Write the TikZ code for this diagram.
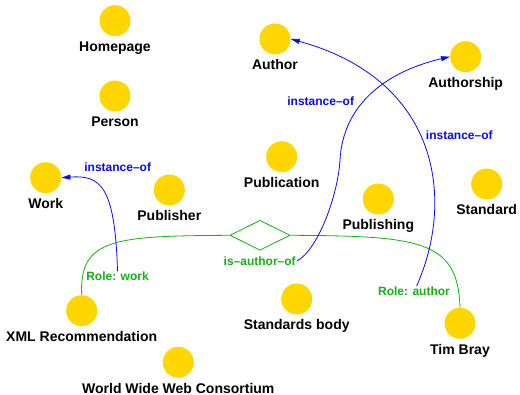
\documentclass[tikz,border=0pt]{standalone}
\usepackage{fontspec}
\setmainfont{Liberation Sans}
\usetikzlibrary{shapes.geometric,arrows.meta}
\definecolor{topicgold}{RGB}{255,214,0}
\definecolor{rolegreen}{RGB}{20,178,20}
\definecolor{typeblue}{RGB}{10,10,245}

\begin{document}
\begin{tikzpicture}[x=1pt, y=-1pt,
        topic/.style={circle, fill=topicgold, minimum size=31pt, inner sep=0pt,
          label={[font=\fontsize{14}{16}\selectfont\bfseries, text height=10pt, text depth=3pt,
          inner sep=0pt, label distance=5pt]below:#1}},
        assoc/.style={diamond, draw=rolegreen, line width=0.8pt, minimum width=60pt,
          minimum height=30pt, inner sep=0pt},
        rolelabel/.style={text=rolegreen, font=\fontsize{12}{14}\selectfont\bfseries, inner sep=1pt},
        typelabel/.style={text=typeblue, font=\fontsize{12}{14}\selectfont\bfseries, inner sep=1pt},
        roleline/.style={draw=rolegreen, line width=0.8pt},
        typeline/.style={draw=typeblue, line width=0.8pt, -{Triangle[length=9pt,width=5pt]}}]
        \useasboundingbox (0,0) rectangle (520,395);
        % topics
        \node[topic=Homepage] (homepage) at (115,20.7) {};
        \node[topic=Person] (person) at (115,96) {};
        \node[topic=Author] (author) at (275,39) {};
        \node[topic=Authorship] (authorship) at (465.7,56.7) {};
        \node[topic=Publication] (publication) at (281.7,156.7) {};
        \node[topic=Work] (work) at (45.7,177.7) {};
        \node[topic=Publisher] (publisher) at (169.3,190) {};
        \node[topic=Publishing] (publishing) at (378.3,199) {};
        \node[topic=Standard] (standard) at (486.7,184) {};
        \node[topic=Standards body] (standardsbody) at (296.7,299) {};
        \node[topic=XML Recommendation] (xmlrec) at (81.7,310.7) {};
        \node[topic=Tim Bray] (timbray) at (460,323.3) {};
        \node[topic=World Wide Web Consortium] (wwwc) at (178.3,362.3) {};
        % association and roles
        \node[assoc] (isauthorof) at (260,235.3) {};
        \node[rolelabel] (assoclabel) at (259.7,261) {is--author--of};
        \node[rolelabel] (rolework) at (117.5,276.7) {Role: work};
        \node[rolelabel] (roleauthor) at (414,291.7) {Role: author};
        \path[roleline] (isauthorof.west) .. controls (115,236) and (79,238) .. (xmlrec.north);
        \path[roleline] (isauthorof.east) .. controls (420,236) and (458,240) .. (timbray.north);
        % instance-of
        \node[typelabel] (instwork) at (117.7,167.7) {instance--of};
        \node[typelabel] (instauthorship) at (320.7,101) {instance--of};
        \node[typelabel] (instauthor) at (459.3,135) {instance--of};
        \path[typeline] (rolework.north) .. controls (115,185) and (100,175) .. (work.east);
        \path[typeline] (assoclabel.east) .. controls (318,250) and (338,195) .. (340,160)
          .. controls (343,105) and (385,72) .. (authorship.west);
        \path[typeline] (roleauthor.65) .. controls (455,200) and (440,80) .. (author.east);
\end{tikzpicture}
\end{document}
